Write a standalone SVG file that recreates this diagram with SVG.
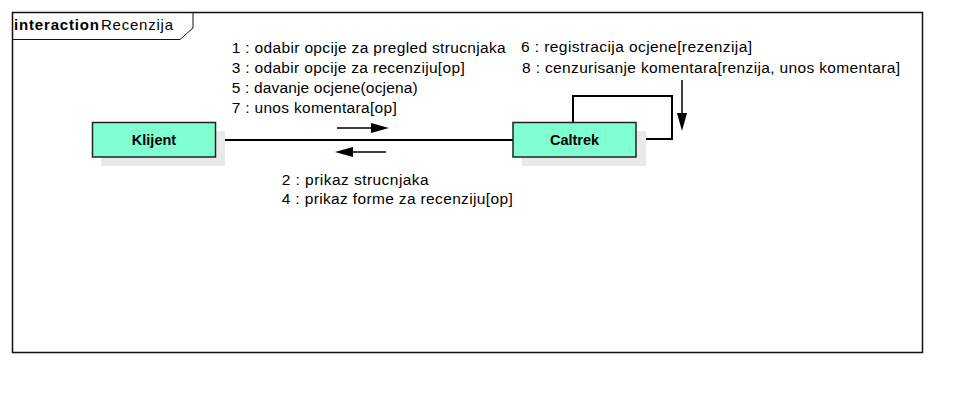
<svg xmlns="http://www.w3.org/2000/svg" width="972" height="402" viewBox="0 0 972 402">
<style>
text{font-family:"Liberation Sans",Arial,sans-serif;font-size:15px;fill:#000}
.lbl{font-size:15.5px}
.nm{font-weight:bold;font-size:14.5px;text-anchor:middle}
.box{fill:#80ffd0;stroke:#222;stroke-width:1.5}
.shd{fill:#e9e9e9}
.ln{fill:none;stroke:#000;stroke-width:2}
</style>
<rect width="972" height="402" fill="#fff"/>
<g id="frame">
<rect x="12.5" y="12.5" width="910" height="340" fill="none" stroke="#111" stroke-width="1.5"/>
<path d="M12.5,39.5 L180,39.5 L193,28 L193,12.5" fill="none" stroke="#111" stroke-width="1"/>
<text x="14" y="30" font-weight="bold" textLength="85" lengthAdjust="spacing">interaction</text>
<text x="101" y="30" textLength="72" lengthAdjust="spacing">Recenzija</text>
</g>
<g id="connectors">
<line class="ln" x1="216" y1="140" x2="513" y2="140"/>
<path class="ln" d="M573,122 L573,96 L672,96 L672,139 L636,139"/>
<line x1="337" y1="128" x2="375" y2="128" stroke="#000" stroke-width="1.5"/>
<path d="M371,123 L389,128 L371,133 Z" fill="#000"/>
<line x1="386" y1="152" x2="350" y2="152" stroke="#000" stroke-width="1.5"/>
<path d="M353,147 L335,152 L353,157 Z" fill="#000"/>
<line x1="682" y1="80" x2="682" y2="115" stroke="#000" stroke-width="1.5"/>
<path d="M677,113 L682,131 L687,113 Z" fill="#000"/>
<text class="lbl" x="231.7" y="53" textLength="274" lengthAdjust="spacing">1 : odabir opcije za pregled strucnjaka</text>
<text class="lbl" x="231.7" y="73" textLength="233" lengthAdjust="spacing">3 : odabir opcije za recenziju[op]</text>
<text class="lbl" x="231.7" y="93" textLength="186" lengthAdjust="spacing">5 : davanje ocjene(ocjena)</text>
<text class="lbl" x="231.7" y="113" textLength="165" lengthAdjust="spacing">7 : unos komentara[op]</text>
<text class="lbl" x="281.7" y="185" textLength="147" lengthAdjust="spacing">2 : prikaz strucnjaka</text>
<text class="lbl" x="281.7" y="204" textLength="231" lengthAdjust="spacing">4 : prikaz forme za recenziju[op]</text>
<text class="lbl" x="521" y="52" textLength="231" lengthAdjust="spacing">6 : registracija ocjene[rezenzija]</text>
<text class="lbl" x="522" y="73" textLength="378" lengthAdjust="spacing">8 : cenzurisanje komentara[renzija, unos komentara]</text>
</g>
<g id="klijent">
<rect class="shd" x="101" y="131" width="124" height="35"/>
<rect class="box" x="92.5" y="122.5" width="123" height="34.5"/>
<text class="nm" x="154" y="145">Klijent</text>
</g>
<g id="caltrek">
<rect class="shd" x="522" y="131" width="124" height="35"/>
<rect class="box" x="513" y="122.5" width="123" height="34.5"/>
<text class="nm" x="574.5" y="145">Caltrek</text>
</g>
</svg>
